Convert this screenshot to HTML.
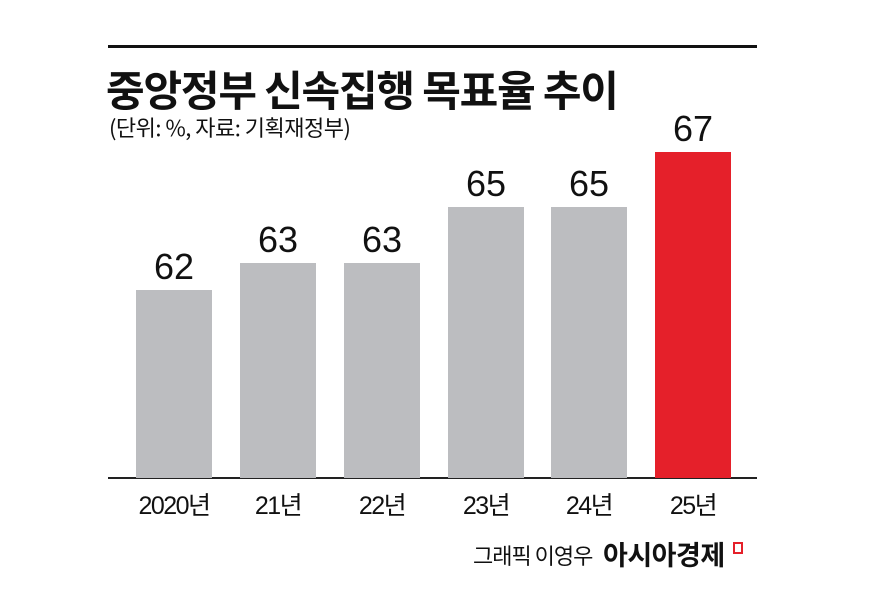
<!DOCTYPE html>
<html><head><meta charset="utf-8"><style>
body{margin:0;width:869px;height:603px;background:#fff;position:relative;overflow:hidden;font-family:"Liberation Sans","Noto Sans CJK KR",sans-serif;color:#111}
.a{position:absolute}
.bar{position:absolute;width:76px;background:#bcbdc0}
.v{position:absolute;width:76px;text-align:center;font-size:36px;top:0}
.x{position:absolute;width:110px;text-align:center;font-size:25px;top:486px;letter-spacing:-1.5px}
</style></head><body>
<div class="a" style="left:108px;top:45px;width:649px;height:3px;background:#111"></div>
<div class="a" style="left:106px;top:58px;font-size:42px;font-weight:bold;letter-spacing:-1.2px;white-space:nowrap;font-family:'Noto Sans CJK KR',sans-serif">중앙정부 신속집행 목표율 추이</div>
<div class="a" style="left:109px;top:111px;font-size:22px;letter-spacing:-0.5px;white-space:nowrap;font-family:'Noto Sans CJK KR',sans-serif">(단위: %, 자료: 기획재정부)</div>
<div class="a" style="left:108px;top:477px;width:649px;height:2px;background:#222"></div>

<div class="bar" style="left:136px;top:290px;height:188px"></div>
<div class="bar" style="left:240px;top:263px;height:215px"></div>
<div class="bar" style="left:344px;top:263px;height:215px"></div>
<div class="bar" style="left:448px;top:207px;height:271px"></div>
<div class="bar" style="left:551px;top:207px;height:271px"></div>
<div class="bar" style="left:655px;top:152px;height:326px;background:#e5202a"></div>

<div class="v" style="left:136px;top:246px">62</div>
<div class="v" style="left:240px;top:219px">63</div>
<div class="v" style="left:344px;top:219px">63</div>
<div class="v" style="left:448px;top:163px">65</div>
<div class="v" style="left:551px;top:163px">65</div>
<div class="v" style="left:655px;top:108px">67</div>

<div class="x" style="left:119px">2020년</div>
<div class="x" style="left:223px">21년</div>
<div class="x" style="left:327px">22년</div>
<div class="x" style="left:431px">23년</div>
<div class="x" style="left:534px">24년</div>
<div class="x" style="left:638px">25년</div>

<div class="a" style="left:473px;top:539px;font-size:22px;letter-spacing:-1px;white-space:nowrap;font-family:'Noto Sans CJK KR',sans-serif">그래픽 이영우</div>
<div class="a" style="left:603px;top:534px;font-size:27px;font-weight:bold;letter-spacing:-0.5px;white-space:nowrap;font-family:'Noto Sans CJK KR',sans-serif">아시아경제</div>
<div class="a" style="left:733px;top:542px;width:6px;height:8px;border:2px solid #e5202a"></div>
</body></html>
